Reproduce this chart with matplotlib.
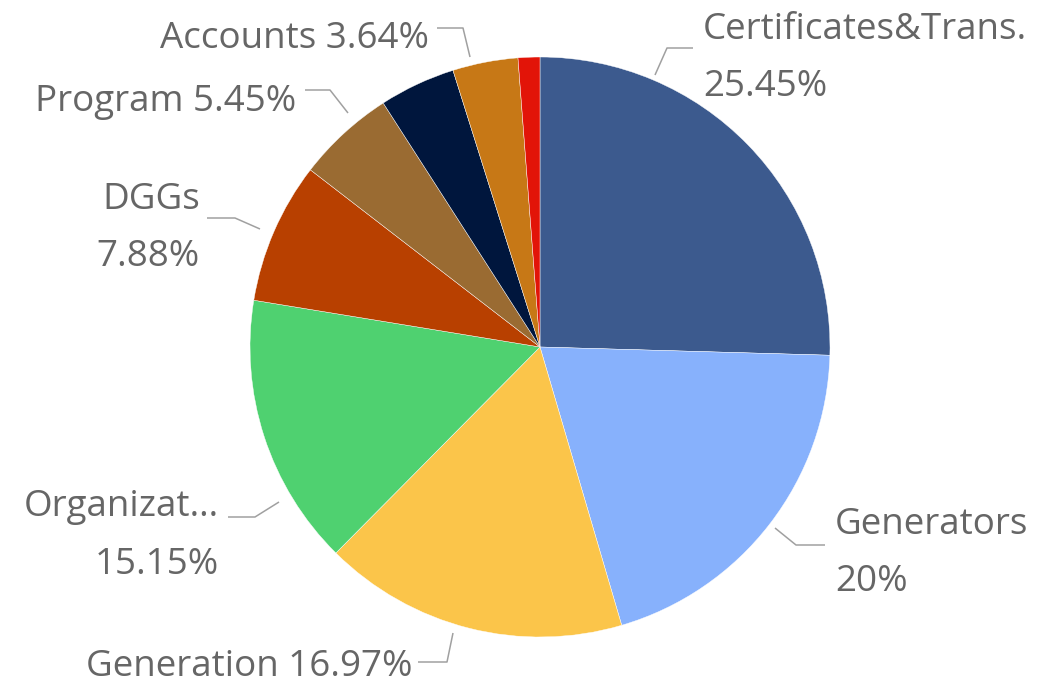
import matplotlib
matplotlib.use("Agg")
import matplotlib.pyplot as plt

# ---- data ----
categories = ["Certificates&Trans.", "Generators", "Generation", "Organizat\u2026",
              "DGGs", "Program", "Other", "Accounts", "Misc"]
values = [25.45, 20.00, 16.97, 15.15, 7.88, 5.45, 4.24, 3.64, 1.21]
colors = ["#3c5a8e", "#87b1fc", "#fbc54a", "#4fd170", "#b84000",
          "#9a6b32", "#00163d", "#c77816", "#e21408"]

# label layout (pixel coordinates, y from top): lines, anchor x, y's, ha, connector
labels_layout = [
    (["Certificates&Trans.", "25.45%"], 703, [28, 85], "left",
     [(655, 75), (667, 48), (693, 48)]),
    (["Generators", "20%"], 835, [523, 580], "left",
     [(775, 528), (796, 545), (825, 545)]),
    (["Generation 16.97%"], 412, [665], "right",
     [(453, 633), (447, 662), (418, 662)]),
    (["Organizat\u2026", "15.15%"], 219, [505, 563], "right",
     [(279, 502), (255, 517), (228, 517)]),
    (["DGGs", "7.88%"], 200, [198, 255], "right",
     [(260, 229), (235, 218), (207, 218)]),
    (["Program 5.45%"], 296, [100], "right",
     [(348, 113), (330, 90), (305, 90)]),
    (["Accounts 3.64%"], 429, [37], "right",
     [(470, 57), (463, 28), (437, 28)]),
]

W, H = 1064, 692
fig = plt.figure(figsize=(W / 100, H / 100), dpi=100)
ax = fig.add_axes([0, 0, 1, 1])

cx, cy, r = 540, 347, 290
ax.pie(values, colors=colors, startangle=90, counterclock=False,
       center=(cx, H - cy), radius=r, frame=True,
       wedgeprops=dict(edgecolor="white", linewidth=0.3))
ax.set_xlim(0, W)
ax.set_ylim(0, H)
ax.axis("off")

for lines, x, ys, ha, conn in labels_layout:
    for txt, y in zip(lines, ys):
        ax.text(x, H - y - 2, txt, ha=ha, va="center", fontsize=26.5,
                family=["Open Sans", "DejaVu Sans"], color="#666666")
    xs = [p[0] for p in conn]
    yy = [H - p[1] for p in conn]
    ax.plot(xs, yy, color="#a0a0a0", lw=1.1, solid_capstyle="butt")

fig.savefig("out.png", dpi=100)
